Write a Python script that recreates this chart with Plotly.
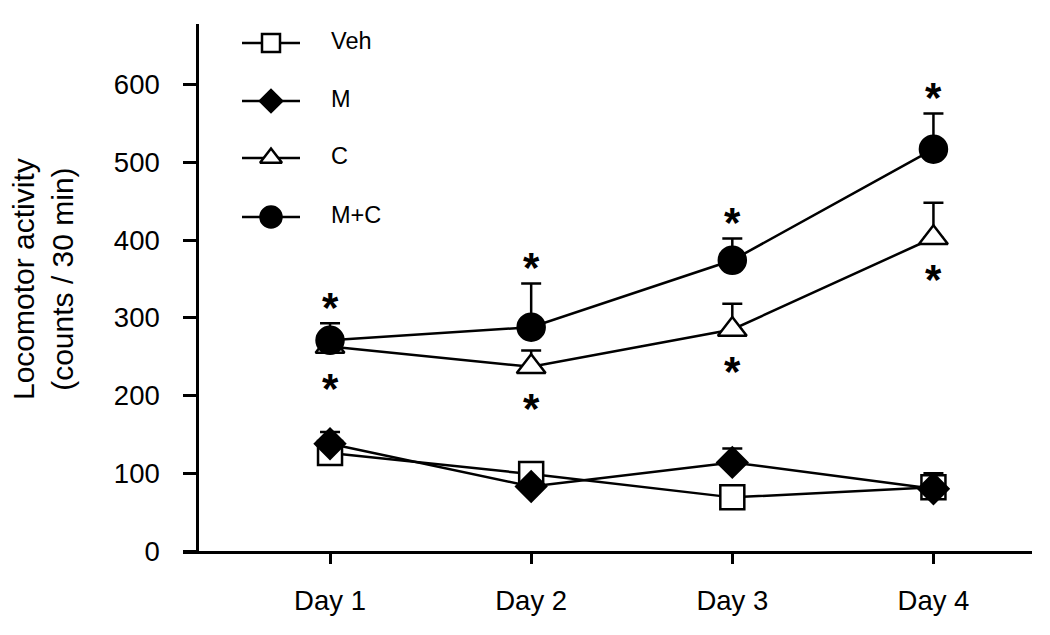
import plotly.graph_objects as go

days = ["Day 1", "Day 2", "Day 3", "Day 4"]
x_pos = [1, 2, 3, 4]
veh = [126, 99, 69, 82]
veh_err = [6, 6, 4, 8]
m = [138, 83, 114, 80]
m_err = [15, 4, 18, 20]
c = [263, 237, 285, 403]
c_err = [6, 21, 33, 45]
mc = [271, 288, 374, 517]
mc_err = [22, 56, 28, 46]
y_ticks = [0, 100, 200, 300, 400, 500, 600]

FONT = "Liberation Sans, Arial, sans-serif"
BLACK = "black"
# the page body adds an 8 px margin; the figure is sized to compensate
PAGE_MARGIN = 8

fig = go.Figure()

# name, values, errors, symbol, fill, plot size, legend size
series = [
    ("Veh", veh, veh_err, "square", "white", 24, 18),
    ("M", m, m_err, "diamond", BLACK, 23, 17),
    ("C", c, c_err, "triangle-up", "white", 25, 19),
    ("M+C", mc, mc_err, "circle", BLACK, 27, 21),
]

for name, vals, err, sym, fill, size, lsize in series:
    fig.add_trace(go.Scatter(
        x=x_pos, y=vals, mode="lines+markers", name=name,
        line=dict(color=BLACK, width=2.5),
        marker=dict(symbol=sym, size=size, color=fill,
                    line=dict(color=BLACK, width=2.5)),
        error_y=dict(type="data", symmetric=False, array=err,
                     arrayminus=[0] * len(err), color=BLACK,
                     thickness=2.5, width=10),
        showlegend=False, cliponaxis=False,
    ))

# significance asterisks
for xi, v, e in zip(x_pos, mc, mc_err):
    fig.add_annotation(x=xi, y=v + e, text="<b>*</b>", showarrow=False,
                       yshift=16, font=dict(size=42, family=FONT, color=BLACK))
for xi, v in zip(x_pos, c):
    fig.add_annotation(x=xi, y=v, text="<b>*</b>", showarrow=False,
                       yshift=-42, font=dict(size=42, family=FONT, color=BLACK))

# custom legend on a pixel-mapped overlay axis
leg_y = [43, 101, 158, 217]
for (name, vals, err, sym, fill, size, lsize), ly in zip(series, leg_y):
    fig.add_trace(go.Scatter(
        x=[242, 300], y=[ly, ly], mode="lines", xaxis="x2", yaxis="y2",
        line=dict(color=BLACK, width=2.5), showlegend=False, hoverinfo="skip",
        cliponaxis=False,
    ))
    fig.add_trace(go.Scatter(
        x=[271], y=[ly], mode="markers", xaxis="x2", yaxis="y2",
        marker=dict(symbol=sym, size=lsize, color=fill,
                    line=dict(color=BLACK, width=2.5)),
        showlegend=False, hoverinfo="skip", cliponaxis=False,
    ))
    fig.add_annotation(x=329, y=ly - 2, xref="x2", yref="y2", text=name,
                       showarrow=False, xanchor="left", yanchor="middle",
                       font=dict(size=23.5, family=FONT, color=BLACK))

# y-axis title (paper coords: plot area spans x 183..1032, y 24..551 px)
fig.add_annotation(x=(43 - 183) / (1032 - 183), y=(551 - 279) / (551 - 24),
                   xref="paper", yref="paper",
                   text="Locomotor activity<br>(counts / 30 min)",
                   textangle=-90, showarrow=False, xanchor="center",
                   yanchor="middle",
                   font=dict(size=30, family=FONT, color=BLACK))

fig.update_layout(
    width=1050 - PAGE_MARGIN, height=635 - PAGE_MARGIN,
    margin=dict(l=183 - PAGE_MARGIN, r=18, t=24 - PAGE_MARGIN, b=84),
    paper_bgcolor="white", plot_bgcolor="white",
    font=dict(family=FONT, color=BLACK),
    xaxis=dict(range=[0.269, 4.49], tickvals=x_pos, ticktext=days,
               showgrid=False, zeroline=False, showline=True,
               linecolor=BLACK, linewidth=2.5, ticks="outside",
               ticklen=10, tickwidth=2.5, tickcolor=BLACK,
               tickfont=dict(size=27.5, family=FONT, color=BLACK),
               ticklabelstandoff=13, automargin=False),
    yaxis=dict(range=[0, 678], tickvals=y_ticks, showgrid=False,
               zeroline=False, showline=True, linecolor=BLACK,
               linewidth=2.5, ticks="outside", ticklen=13, tickwidth=2.5,
               tickcolor=BLACK, anchor="free", position=0.0165,
               tickfont=dict(size=27.5, family=FONT, color=BLACK),
               ticklabelstandoff=18, automargin=False),
    xaxis2=dict(range=[183, 1032], overlaying="x", visible=False),
    yaxis2=dict(range=[551, 24], overlaying="y", visible=False),
)

fig.write_html("out.html")
